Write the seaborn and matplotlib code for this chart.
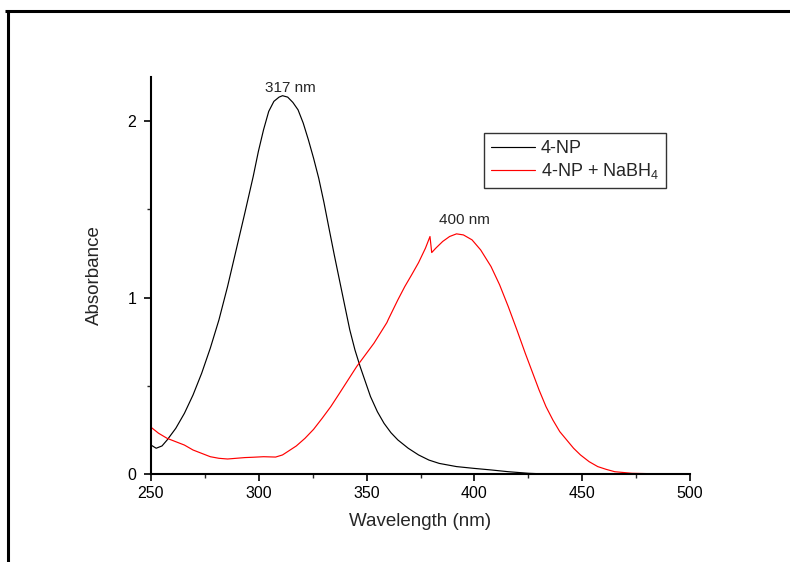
import numpy as np
import pandas as pd
import matplotlib
matplotlib.use("Agg")
import matplotlib.pyplot as plt
from matplotlib.lines import Line2D
from matplotlib.ticker import MultipleLocator
import seaborn as sns

# ---- data ----
np_wl = [250.0, 252.4, 255.1, 257.5, 261.5, 265.5, 269.5, 273.5, 277.5, 281.5, 285.5, 289.5,
         293.5, 297.4, 299.8, 302.2, 304.6, 307.0, 309.4, 311.0, 313.4, 315.8, 318.2, 320.6,
         323.0, 325.4, 327.8, 330.2, 332.6, 335.0, 337.4, 339.8, 342.2, 344.6, 347.0, 349.4,
         351.8, 355.0, 358.1, 361.3, 364.5, 369.3, 374.1, 378.9, 383.7, 391.7, 399.7, 407.7,
         415.7, 425.2, 433.2, 460.0, 500.0]
np_abs = [0.164, 0.146, 0.159, 0.193, 0.259, 0.344, 0.448, 0.571, 0.713, 0.873, 1.062, 1.270,
          1.478, 1.686, 1.828, 1.951, 2.055, 2.112, 2.136, 2.144, 2.136, 2.106, 2.064, 1.989,
          1.894, 1.790, 1.676, 1.540, 1.390, 1.242, 1.100, 0.958, 0.817, 0.703, 0.609, 0.524,
          0.439, 0.353, 0.287, 0.234, 0.193, 0.146, 0.108, 0.079, 0.060, 0.042, 0.032, 0.023,
          0.013, 0.004, 0.0, 0.0, 0.0]

nb_wl = [250.0, 253.5, 257.5, 261.5, 265.5, 269.5, 273.5, 277.5, 281.5, 285.5, 289.5, 293.5,
         297.4, 302.2, 307.8, 311.0, 313.4, 317.4, 321.4, 325.4, 329.4, 333.4, 337.4, 341.4,
         345.4, 349.4, 353.4, 357.3, 359.4, 360.1, 364.5, 367.7, 370.9, 374.1, 377.3, 379.4,
         380.2, 382.1, 385.3, 388.5, 391.7, 394.9, 398.9, 402.9, 407.7, 411.7, 415.7, 419.7,
         423.6, 426.8, 430.0, 433.2, 436.4, 439.6, 442.8, 446.0, 449.2, 453.2, 457.2, 461.2,
         465.1, 473.1, 481.1, 500.0]
nb_abs = [0.265, 0.231, 0.202, 0.183, 0.164, 0.136, 0.117, 0.098, 0.089, 0.085, 0.089, 0.093,
          0.095, 0.098, 0.096, 0.108, 0.127, 0.159, 0.202, 0.253, 0.316, 0.382, 0.457, 0.533,
          0.609, 0.675, 0.741, 0.817, 0.858, 0.877, 0.987, 1.062, 1.129, 1.198, 1.280, 1.346,
          1.255, 1.280, 1.318, 1.346, 1.361, 1.355, 1.327, 1.270, 1.176, 1.072, 0.949, 0.817,
          0.684, 0.580, 0.476, 0.382, 0.306, 0.240, 0.193, 0.146, 0.108, 0.070, 0.042, 0.026,
          0.013, 0.004, 0.002, 0.0]

series_names = ["4-NP", "4-NP + NaBH$_4$"]
series_colors = ["#000000", "#ff0000"]
x_ticks = [250, 300, 350, 400, 450, 500]
y_ticks = [0, 1, 2]
peak_labels = ["317 nm", "400 nm"]
peak_label_pos = [(314.5, 2.19), (395.5, 1.44)]

df = pd.concat([
    pd.DataFrame({"Wavelength": np_wl, "Absorbance": np_abs, "series": series_names[0]}),
    pd.DataFrame({"Wavelength": nb_wl, "Absorbance": nb_abs, "series": series_names[1]}),
], ignore_index=True)

sns.set_style("ticks")
plt.rcParams["font.family"] = ["Liberation Sans", "DejaVu Sans"]
plt.rcParams["mathtext.fontset"] = "custom"
plt.rcParams["mathtext.rm"] = "Liberation Sans"
plt.rcParams["mathtext.default"] = "regular"

W, H = 790, 562
fig = plt.figure(figsize=(W / 100, H / 100), dpi=100)
ax = fig.add_axes([151 / W, 1 - 474 / H, (690 - 151) / W, (474 - 77) / H])

sns.lineplot(data=df, x="Wavelength", y="Absorbance", hue="series",
             palette=dict(zip(series_names, series_colors)), ax=ax,
             linewidth=0.85, sort=False, estimator=None, legend=False)

ax.set_xlim(250, 500)
ax.set_ylim(0, 2.25)
ax.set_xticks(x_ticks)
ax.set_yticks(y_ticks)
ax.xaxis.set_minor_locator(MultipleLocator(25))
ax.yaxis.set_minor_locator(MultipleLocator(0.5))
ax.tick_params(which="major", direction="out", length=5, width=1.2, labelsize=11.5, colors="black")
ax.tick_params(which="minor", direction="out", length=3, width=1.0)
ax.tick_params(axis="x", which="major", pad=4)
ax.tick_params(axis="y", which="major", pad=5.5)
for s in ["top", "right"]:
    ax.spines[s].set_visible(False)
for s in ["left", "bottom"]:
    ax.spines[s].set_linewidth(1.5)
    ax.spines[s].set_color("black")

ax.set_xlabel("Wavelength (nm)", fontsize=13.5, labelpad=8)
ax.set_ylabel("Absorbance", fontsize=13.5, labelpad=18)

for txt, (xx, yy) in zip(peak_labels, peak_label_pos):
    ax.text(xx, yy, txt, ha="center", va="center", fontsize=11)

handles = [Line2D([0], [0], color=c, lw=0.85) for c in series_colors]
leg = ax.legend(handles, series_names, loc="upper left",
                bbox_to_anchor=(484 / W, 1 - 133 / H), bbox_transform=fig.transFigure,
                fontsize=13, frameon=True, fancybox=False, edgecolor="black",
                handlelength=2.4, handletextpad=0.35, borderpad=0.4, labelspacing=0.2,
                borderaxespad=0)
leg.get_frame().set_linewidth(1.0)

# figure frame lines (top and left)
fig.add_artist(Line2D([5 / W, 1.0], [1 - 10.5 / H, 1 - 10.5 / H], transform=fig.transFigure,
                      color="black", lw=2.2, solid_capstyle="butt"))
fig.add_artist(Line2D([7.5 / W, 7.5 / W], [1 - 10.5 / H, 0], transform=fig.transFigure,
                      color="black", lw=2.2, solid_capstyle="butt"))

fig.savefig("out.png", dpi=100, facecolor="white")
